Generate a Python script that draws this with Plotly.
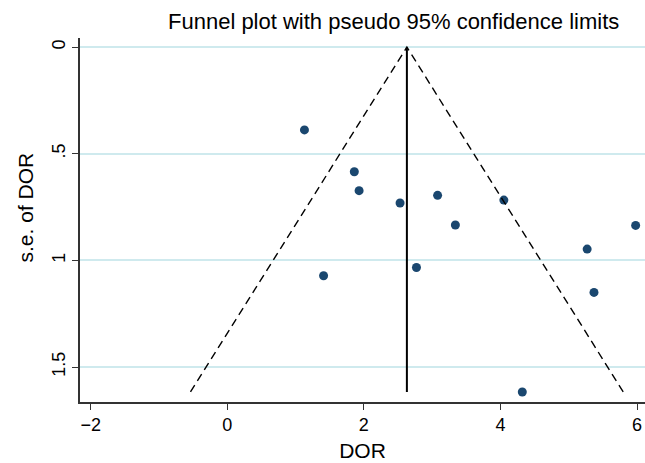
import plotly.graph_objects as go

# Study data: diagnostic odds ratio (log scale) and its standard error
dor = [1.13, 1.86, 1.93, 2.53, 3.08, 4.05, 3.34, 5.98, 5.27, 5.37, 2.77, 1.41, 4.32]
se_dor = [0.388, 0.584, 0.673, 0.731, 0.695, 0.717, 0.834, 0.836, 0.947, 1.150, 1.033, 1.072, 1.617]

pooled = 2.63            # pooled estimate (vertical line)
z95 = 1.96
se_max = max(se_dor)

x_ticks = [-2, 0, 2, 4, 6]
x_ticktext = ["\u22122", "0", "2", "4", "6"]
y_ticks = [0, 0.5, 1, 1.5]
y_ticktext = ["0", ".5", "1", "1.5"]

FONT = "Liberation Sans, Arial, Helvetica, sans-serif"
navy = "#1a476f"
grid = "#cfeaee"

fig = go.Figure()

fig.add_trace(go.Scatter(
    x=dor, y=se_dor, mode="markers",
    marker=dict(color=navy, size=9, line=dict(width=0)),
    showlegend=False, hoverinfo="x+y"))

# pseudo 95% confidence limits
fig.add_trace(go.Scatter(
    x=[pooled - z95 * se_max, pooled, pooled + z95 * se_max],
    y=[se_max, 0, se_max], mode="lines",
    line=dict(color="black", width=1.4, dash="8px,5px"),
    showlegend=False, hoverinfo="skip"))

fig.add_trace(go.Scatter(
    x=[pooled, pooled], y=[0, se_max], mode="lines",
    line=dict(color="black", width=2),
    showlegend=False, hoverinfo="skip"))

fig.update_layout(
    width=645, height=463,
    margin=dict(l=80, r=0, t=38, b=61),
    paper_bgcolor="white", plot_bgcolor="white",
    font=dict(family=FONT, color="#000000"),
    xaxis=dict(
        range=[-2.157, 6.117],
        tickvals=x_ticks, ticktext=x_ticktext,
        ticks="outside", ticklen=6, tickwidth=1, tickcolor="#333333",
        tickfont=dict(size=18, family=FONT, color="#000000"),
        showline=True, linecolor="#333333", linewidth=1.5,
        showgrid=False, zeroline=False,
        title=dict(text="DOR", font=dict(size=21, family=FONT), standoff=9),
    ),
    yaxis=dict(
        range=[1.664, -0.043],
        tickvals=y_ticks, ticktext=y_ticktext, tickangle=-90,
        ticks="outside", ticklen=6, tickwidth=1, tickcolor="#333333",
        tickfont=dict(size=18, family=FONT, color="#000000"),
        showline=True, linecolor="#333333", linewidth=1.5,
        showgrid=True, gridcolor=grid, gridwidth=1.5, zeroline=False,
    ),
    annotations=[
        dict(text="Funnel plot with pseudo 95% confidence limits",
             xref="paper", yref="paper", x=(393 - 80) / 565, y=1 + (38 - 22) / 363,
             xanchor="center", yanchor="middle", showarrow=False,
             font=dict(size=22, family=FONT, color="#000000")),
        dict(text="s.e. of DOR", textangle=-90,
             xref="paper", yref="paper", x=(25 - 80) / 565, y=1 - (207 - 38) / 363,
             xanchor="center", yanchor="middle", showarrow=False,
             font=dict(size=21, family=FONT, color="#000000")),
    ],
)

fig.write_html("out.html")
